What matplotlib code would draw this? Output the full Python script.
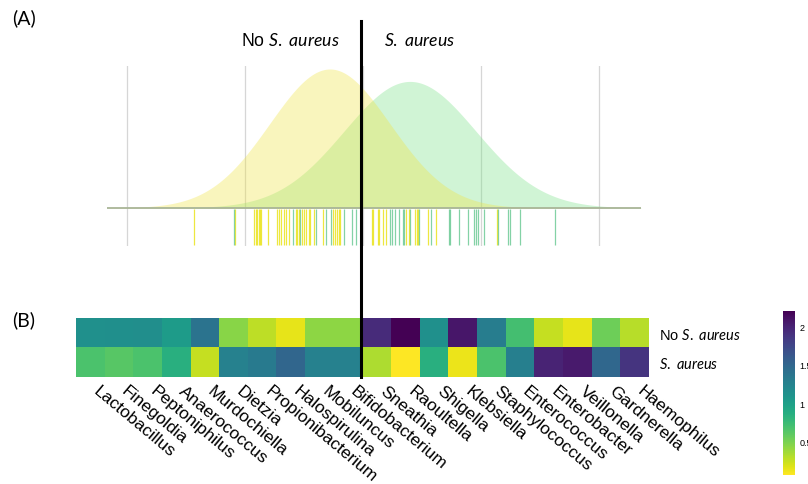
import numpy as np
import matplotlib
matplotlib.use('Agg')
import matplotlib.pyplot as plt
from matplotlib.lines import Line2D

plt.rcParams['font.family'] = ['Liberation Sans', 'DejaVu Sans']
plt.rcParams['mathtext.fontset'] = 'custom'
plt.rcParams['mathtext.rm'] = 'Lato'
plt.rcParams['mathtext.it'] = 'Lato:italic'

# rug positions (score units, 0 = split between groups)
no_aureus_pts = [-1.43, -1.08, -0.92, -0.91, -0.90, -0.88, -0.87, -0.86, -0.80, -0.73,
                 -0.71, -0.69, -0.67, -0.65, -0.63, -0.57, -0.56, -0.54, -0.52, -0.50,
                 -0.48, -0.46, -0.45, -0.41, -0.34, -0.25, -0.24, -0.22, -0.20, -0.19,
                 0.08, 0.09, 0.13, 0.14, 0.17, 0.20, 0.37, 0.39, 0.44, 0.46,
                 0.47, 0.55, 0.62, 1.14]
aureus_pts = [-1.09, -0.59, -0.53, -0.40, -0.31, -0.27, -0.16, -0.09, -0.06, 0.23,
              0.25, 0.27, 0.31, 0.34, 0.35, 0.40, 0.48, 0.58, 0.73, 0.74,
              0.82, 0.89, 0.94, 0.96, 0.98, 1.03, 1.15, 1.23, 1.25, 1.33, 1.63]
# normal curves drawn over the rug (mean, sd) for each group
dens_mean = [-0.28, 0.40]
dens_sd = [0.51, 0.56]
grid_pos = [-2, -1, 0, 1, 2]

genera = ['Lactobacillus', 'Finegoldia', 'Peptoniphilus', 'Anaerococcus', 'Murdochiella',
          'Dietzia', 'Propionibacterium', 'Halospirulina', 'Mobiluncus', 'Bifidobacterium',
          'Sneathia', 'Raoultella', 'Shigella', 'Klebsiella', 'Staphylococcus',
          'Enterococcus', 'Enterobacter', 'Veillonella', 'Gardnerella', 'Haemophilus']
no_aureus_vals = [1.13, 1.14, 1.15, 1.03, 1.39, 0.45, 0.28, 0.15, 0.43, 0.43,
                  1.94, 2.20, 1.13, 2.07, 1.30, 0.71, 0.26, 0.15, 0.54, 0.30]
aureus_vals = [0.67, 0.62, 0.67, 0.86, 0.26, 1.26, 1.33, 1.50, 1.26, 1.26,
               0.33, 0.07, 0.86, 0.13, 0.67, 1.28, 1.99, 2.05, 1.49, 1.88]
row_labels = [r'No $\it{S.\ aureus}$', r'$\it{S.\ aureus}$']
cbar_ticks = [0.5, 1, 1.5, 2]

W, H = 808, 485
fig = plt.figure(figsize=(W / 100, H / 100), dpi=100)

def box(l, t, r, b):
    return [l / W, 1 - b / H, (r - l) / W, (b - t) / H]

# (A) density + rug
ax = fig.add_axes(box(107, 67, 641, 247))
xmin, xmax = -2.17, 2.36
xs = np.linspace(xmin, xmax, 500)

def normal(m, s):
    return np.exp(-0.5 * ((xs - m) / s) ** 2) / (s * np.sqrt(2 * np.pi))

d_no = normal(dens_mean[0], dens_sd[0])
d_yes = normal(dens_mean[1], dens_sd[1])
peak = max(d_no.max(), d_yes.max())
unit = 139 / peak
top = 142 / unit
bot = -38 / unit

for g in grid_pos:
    ax.axvline(g, color='#d6d6d6', lw=0.9, zorder=0)
ax.fill_between(xs, 0, d_yes, color='#79e287', alpha=0.35, lw=0, zorder=1)
ax.fill_between(xs, 0, d_no, color='#f0e442', alpha=0.35, lw=0, zorder=2)
ax.axhline(0, color='#a9b597', lw=1.3, zorder=3)
ax.vlines(no_aureus_pts, bot * 0.97, -0.5 / unit, color='#e8e000', alpha=0.75, lw=0.9, zorder=3)
ax.vlines(aureus_pts, bot * 0.97, -0.5 / unit, color='#50bf80', alpha=0.7, lw=0.9, zorder=3)
ax.set_xlim(xmin, xmax)
ax.set_ylim(bot, top)
ax.axis('off')

# (B) heatmap
ax2 = fig.add_axes(box(76, 319, 649, 377.7))
data = np.array([no_aureus_vals, aureus_vals])
im = ax2.imshow(data, cmap='viridis_r', vmin=0.07, vmax=2.2, aspect='auto',
                interpolation='nearest')
ax2.set_xticks(range(len(genera)))
ax2.set_xticklabels(genera, rotation=-40, ha='left', va='top', fontsize=12.5)
ax2.set_yticks([0, 1])
ax2.set_yticklabels(row_labels, fontsize=10.5)
ax2.yaxis.tick_right()
ax2.tick_params(length=0)
ax2.tick_params(axis='x', pad=4.5)
ax2.tick_params(axis='y', pad=7)
for sp in ax2.spines.values():
    sp.set_visible(False)

cax = fig.add_axes(box(783, 312, 795, 476))
cb = fig.colorbar(im, cax=cax, ticks=cbar_ticks)
cb.ax.set_yticklabels(['0.5', '1', '1.5', '2'])
cb.ax.tick_params(length=0, labelsize=6.5, pad=3)
cb.outline.set_visible(False)

# split line and labels
fig.add_artist(Line2D([360.5 / W, 360.5 / W], [1 - 22 / H, 1 - 377.7 / H],
                      color='black', lw=2.2, zorder=10))
fig.text(12 / W, 1 - 18 / H, '(A)', fontsize=14, va='center', ha='left', family='Lato')
fig.text(12 / W, 1 - 320 / H, '(B)', fontsize=14, va='center', ha='left', family='Lato')
fig.text(290 / W, 1 - 41 / H, r'No $\it{S.\ aureus}$', fontsize=12.7, ha='center', va='center')
fig.text(420 / W, 1 - 41 / H, r'$\it{S.\ aureus}$', fontsize=12.7, ha='center', va='center')

fig.savefig('out.png', dpi=100)
